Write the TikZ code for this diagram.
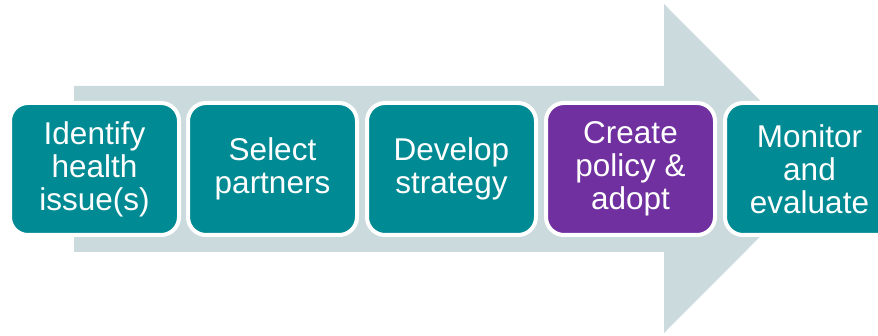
\documentclass[tikz,border=0pt]{standalone}
\usepackage{fontspec}
\setmainfont{Liberation Sans}
\definecolor{stageteal}{HTML}{008A93}
\definecolor{stagepurple}{HTML}{7030A0}
\definecolor{arrowgrey}{HTML}{CBDADC}
\tikzset{
  stage/.style={draw=white, line width=4pt, rounded corners=18pt, fill=stageteal,
    minimum width=169pt, minimum height=132pt, inner sep=0pt, text=white,
    align=center, font=\fontsize{31.5}{33}\selectfont},
}
\begin{document}
\begin{tikzpicture}[x=1pt,y=-1pt]
\useasboundingbox (0,0) rectangle (878,336);
\clip (0,0) rectangle (878,336);
\coordinate (A1) at ( 74, 86);
\coordinate (A2) at (664, 86);
\coordinate (A3) at (664,  4);
\coordinate (A4) at (828,168.5);
\coordinate (A5) at (664,333);
\coordinate (A6) at (664,252);
\coordinate (A7) at ( 74,252);

\fill[arrowgrey] (A1) -- (A2) -- (A3) -- (A4) -- (A5) -- (A6) -- (A7) -- cycle;

\node[stage]                   (B1) at ( 94.5,169) {Identify\\health\\issue(s)};
\node[stage]                   (B2) at (272.5,169) {Select\\partners};
\node[stage]                   (B3) at (451.5,169) {Develop\\strategy};
\node[stage, fill=stagepurple] (B4) at (630.5,169) {Create\\policy \&\\adopt};
\node[stage]                   (B5) at (809.5,169) {Monitor\\and\\evaluate};

\end{tikzpicture}
\end{document}
